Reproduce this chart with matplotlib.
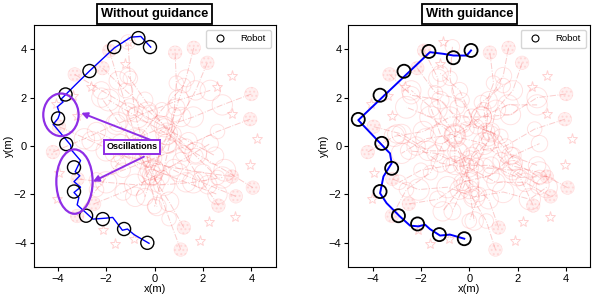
import matplotlib
matplotlib.use("Agg")
import matplotlib.pyplot as plt
from matplotlib.patches import Circle, Ellipse
from matplotlib.lines import Line2D

plt.rcParams['font.family'] = ['Liberation Sans', 'DejaVu Sans']

# ---------------- data ----------------
titles = ["Without guidance", "With guidance"]
ticks = [-4, -2, 0, 2, 4]

# robot trajectory (blue line) and sampled robot positions (black circles)
robot_line_left_x = [-0.23, -0.85, -1.12, -1.33, -1.73, -2.0, -2.55, -2.9, -3.2, -3.13, -3.33, -3.06, -3.33,
                     -3.09, -3.28, -3.06, -3.44, -3.47, -4.19, -3.99, -3.92, -4.02, -3.78, -3.88, -3.3,
                     -2.69, -1.67, -0.98, -0.57, -0.16]
robot_line_left_y = [-4.02, -3.66, -3.43, -3.48, -2.95, -2.98, -3.02, -2.7, -2.43, -2.13, -1.92, -1.7, -1.47,
                     -1.23, -1.06, -0.6, -0.16, 0.04, 0.9, 1.14, 1.34, 1.62, 1.82, 1.92, 2.5,
                     3.1, 4.05, 4.5, 4.53, 4.09]
robot_pos_left_x = [-0.3, -1.26, -2.14, -2.83, -3.33, -3.33, -3.65, -3.99, -3.68, -2.69, -1.67, -0.67, -0.19]
robot_pos_left_y = [-4.0, -3.43, -3.02, -2.88, -1.88, -0.88, 0.08, 1.14, 2.13, 3.1, 4.09, 4.46, 4.09]

robot_line_right_x = [-0.21, -0.8, -1.21, -1.63, -1.83, -2.11, -2.45, -2.87, -3.42, -3.69, -3.55, -3.21,
                      -3.28, -3.42, -4.59, -1.63, -1.07, -0.66, -0.11, 0.07]
robot_line_right_y = [-3.83, -3.66, -3.7, -3.43, -3.25, -3.32, -3.29, -2.91, -2.36, -1.95, -1.26, -0.71,
                      -0.3, -0.16, 1.07, 3.88, 3.81, 3.74, 3.74, 3.95]
robot_pos_right_x = [-0.21, -1.24, -2.14, -2.93, -3.69, -3.21, -3.62, -4.59, -3.69, -2.7, -1.67, -0.66, 0.07]
robot_pos_right_y = [-3.83, -3.66, -3.22, -2.88, -1.88, -0.92, 0.11, 1.1, 2.1, 3.09, 3.91, 3.65, 3.95]

# pedestrian goals (stars) and body radii
ped_goal_x = [-0.85, -1.63, -2.14, -4.03, -3.95, -3.2, -4.06, -3.36, -2.64, -1.21, -1.08,
              4.23, 3.33, 2.23, 3.95, 2.57, 3.2, 1.87, 3.2]
ped_goal_y = [-3.86, -4.03, -3.46, -2.2, -1.11, 1.26, 1.72, 2.08, 2.46, 3.37, 4.28,
              0.29, -2.93, -3.15, -0.8, 2.42, 2.89, -3.94, 1.32]
ped_radius = [0.3, 0.35, 0.4, 0.42, 0.3, 0.35, 0.45, 0.38, 0.33, 0.4, 0.3,
              0.42, 0.36, 0.3, 0.4, 0.34, 0.3, 0.38, 0.44]

# pedestrian trajectories without guidance
left_ped_x = [
    [0.85, 0.9, 0.8, 0.6, 0.3, 0.0],
    [1.62, 1.3, 0.9, 0.5, 0.0, -0.4],
    [2.18, 1.7, 1.1, 0.5, -0.2, -0.8],
    [4.0, 2.8, 1.6, 0.4, -0.8, -2.0],
    [3.95, 2.6, 1.3, 0.0, -1.3, -2.4],
    [3.2, 2.0, 0.8, -0.5, -1.7],
    [4.06, 2.9, 1.7, 0.5, -0.7, -1.9],
    [3.36, 2.2, 1.0, -0.2, -1.4, -2.4],
    [2.64, 1.9, 1.2, 0.4, -0.4, -1.1],
    [1.21, 0.6, -0.1, -0.8, -1.5, -2.2],
    [1.08, 0.6, 0.1, -0.4, -0.8, -1.0, -1.1],
    [-4.2, -2.9, -1.6, -0.3, 1.0, 2.3],
    [-3.3, -2.2, -1.0, 0.2, 1.4, 2.5],
    [-2.15, -1.2, -0.2, 0.8, 1.7, 2.6],
    [-3.95, -2.6, -1.3, 0.0, 1.3, 2.6],
    [-2.5, -1.3, -0.1, 1.1, 2.3],
    [-3.2, -2.4, -1.5, -0.6, 0.3, 1.2],
    [-1.87, -1.5, -1.1, -0.7, -0.3, 0.1],
    [-3.18, -2.0, -0.8, 0.4, 1.6, 2.8],
]
left_ped_y = [
    [3.86, 2.6, 1.3, 0.0, -1.3, -2.5],
    [4.06, 2.8, 1.6, 0.4, -0.9, -2.1],
    [3.44, 2.3, 1.2, 0.1, -1.0, -2.1],
    [2.15, 1.7, 1.2, 0.8, 0.3, -0.2],
    [1.11, 0.6, 0.0, -0.5, -1.0, -1.4],
    [-1.26, -1.1, -0.9, -0.6, -0.3],
    [-1.72, -1.0, -0.3, 0.5, 1.2, 1.9],
    [-2.08, -1.6, -1.1, -0.5, 0.1, 0.6],
    [-2.46, -1.4, -0.3, 0.8, 1.9, 2.9],
    [-3.37, -2.3, -1.2, -0.1, 1.0, 2.0],
    [-4.28, -3.0, -1.6, -0.2, 1.3, 2.8, 4.3],
    [-0.25, 0.3, 0.9, 1.4, 1.9, 2.3],
    [2.96, 2.3, 1.6, 0.9, 0.2, -0.4],
    [3.22, 2.3, 1.4, 0.5, -0.4, -1.3],
    [0.8, 0.2, -0.4, -1.0, -1.5, -2.0],
    [-2.39, -1.9, -1.3, -0.6, 0.1],
    [-2.89, -1.8, -0.7, 0.4, 1.5, 2.5],
    [3.94, 2.7, 1.4, 0.1, -1.2, -2.5],
    [-1.36, -1.5, -1.6, -1.6, -1.5, -1.3],
]

# pedestrian trajectories with guidance
right_ped_x = [
    [0.85, 1.0, 0.6, 0.8, 0.3, 0.4, 0.0],
    [1.62, 1.4, 0.8, 0.7, 0.1, -0.2, -0.7],
    [2.18, 1.8, 1.1, 0.8, 0.0, -0.4, -1.1],
    [4.0, 2.8, 1.7, 0.5, -0.6, -1.8, -2.8],
    [3.95, 2.7, 1.5, 0.3, -0.8, -2.0, -2.9],
    [3.2, 2.0, 0.9, -0.3, -1.4, -2.5],
    [4.06, 2.9, 1.7, 0.6, -0.6, -1.6, -2.6],
    [3.36, 2.3, 1.1, 0.0, -1.2, -2.2, -3.0],
    [2.64, 2.1, 1.3, 0.9, 0.1, -0.4, -1.2],
    [1.21, 0.8, 0.0, -0.4, -1.2, -1.6, -2.4],
    [1.08, 0.7, 0.1, -0.1, -0.6, -0.5, -0.8, -0.7],
    [-4.2, -3.1, -1.9, -0.8, 0.5, 1.6, 2.8],
    [-3.3, -2.4, -1.2, -0.3, 0.9, 1.7, 2.8],
    [-2.15, -1.4, -0.3, 0.3, 1.3, 1.9, 2.9],
    [-3.95, -2.8, -1.7, -0.5, 0.6, 1.8, 2.9],
    [-2.5, -1.3, -0.3, 0.9, 1.8, 2.9],
    [-3.2, -2.6, -1.6, -1.1, -0.1, 0.5, 1.4],
    [-1.87, -1.3, -1.3, -0.6, -0.6, 0.0, 0.2],
    [-3.18, -2.1, -0.9, 0.2, 1.4, 2.5, 3.2],
]
right_ped_y = [
    [3.86, 2.6, 1.5, 0.3, -0.8, -2.0, -3.1],
    [4.06, 2.9, 1.9, 0.6, -0.4, -1.6, -2.7],
    [3.44, 2.3, 1.5, 0.2, -0.6, -1.8, -2.7],
    [2.15, 2.0, 1.3, 1.2, 0.5, 0.3, -0.3],
    [1.11, 0.7, 0.0, -0.2, -0.8, -1.0, -1.5],
    [-1.26, -1.3, -0.8, -0.8, -0.3, -0.2],
    [-1.72, -1.1, -0.8, 0.1, 0.4, 1.2, 1.6],
    [-2.08, -1.5, -1.5, -0.9, -0.7, 0.0, 0.5],
    [-2.46, -1.3, -0.6, 0.5, 1.2, 2.3, 3.0],
    [-3.37, -2.2, -1.5, -0.3, 0.5, 1.6, 2.3],
    [-4.28, -3.1, -2.1, -0.8, 0.3, 1.6, 2.8, 4.1],
    [-0.25, 0.4, 0.6, 1.2, 1.2, 1.7, 1.7],
    [2.96, 2.1, 1.9, 0.9, 0.6, -0.4, -0.8],
    [3.22, 2.2, 1.9, 0.8, 0.4, -0.7, -1.3],
    [0.8, 0.5, -0.2, -0.2, -0.9, -1.0, -1.6],
    [-2.39, -2.2, -1.5, -1.2, -0.4, 0.1],
    [-2.89, -1.8, -1.1, 0.1, 0.7, 1.8, 2.5],
    [3.94, 2.8, 1.5, 0.5, -0.8, -1.8, -3.1],
    [-1.36, -1.8, -1.7, -2.1, -1.9, -2.2, -1.7],
]

# annotation
osc_text = "Oscillations"
osc_text_x, osc_text_y = -0.94, -0.04
osc_ell = [(-3.87, 1.29, 1.46, 1.76), (-3.31, -1.47, 1.5, 2.66)]
osc_arrows = [((-0.16, 0.25), (-3.03, 1.37)), ((-0.44, -0.44), (-2.55, -1.47))]

# ---------------- drawing ----------------
PURPLE = '#8f2ee6'

fig = plt.figure(figsize=(5.92, 2.94), dpi=100)
ax_l = fig.add_axes([0.0551, 0.0918, 0.412, 0.823])
ax_r = fig.add_axes([0.5873, 0.0918, 0.411, 0.823])

panels = [
    (ax_l, left_ped_x, left_ped_y, robot_line_left_x, robot_line_left_y,
     robot_pos_left_x, robot_pos_left_y, 1.0, 1.0),
    (ax_r, right_ped_x, right_ped_y, robot_line_right_x, robot_line_right_y,
     robot_pos_right_x, robot_pos_right_y, 1.4, 1.3),
]

for i, (ax, px, py, rlx, rly, rpx, rpy, lw_line, lw_circ) in enumerate(panels):
    for k in range(len(px)):
        xs, ys, r = px[k], py[k], ped_radius[k]
        ax.plot(xs, ys, ls='-.', lw=0.7, color=(0.95, 0.35, 0.35), alpha=0.3, zorder=1)
        ax.add_patch(Circle((xs[0], ys[0]), 0.28, facecolor=(1, 0.6, 0.6, 0.14),
                            edgecolor=(1, 0.4, 0.4, 0.15), hatch='....', lw=0.5, zorder=1))
        for xx, yy in zip(xs[1:], ys[1:]):
            ax.add_patch(Circle((xx, yy), r, facecolor='none',
                                edgecolor=(1, 0.2, 0.2, 0.14), lw=0.7, zorder=1))
        ax.plot([ped_goal_x[k]], [ped_goal_y[k]], marker='*', ms=8, mfc='none',
                mec=(1, 0.3, 0.3, 0.25), mew=0.7, ls='none', zorder=1)

    ax.plot(rlx, rly, color='blue', lw=lw_line, zorder=3)
    for xx, yy in zip(rpx, rpy):
        ax.add_patch(Circle((xx, yy), 0.27, facecolor='none', edgecolor='black',
                            lw=lw_circ, zorder=4))

    ax.set_xlim(-5, 5)
    ax.set_ylim(-5, 5)
    ax.set_aspect('equal')
    ax.set_xticks(ticks)
    ax.set_yticks(ticks)
    ax.tick_params(labelsize=8, length=3, width=0.8, pad=2)
    ax.set_xlabel("x(m)", fontsize=8, labelpad=0)
    ax.set_ylabel("y(m)", fontsize=8, labelpad=0)
    ax.set_title(titles[i], fontsize=9.3, fontweight='bold', pad=6,
                 bbox=dict(boxstyle='square,pad=0.3', facecolor='white',
                           edgecolor='black', linewidth=1.3))
    handle = Line2D([], [], marker='o', ls='none', mfc='none', mec='black', ms=5, mew=0.8)
    ax.legend([handle], ["Robot"], loc='upper right', fontsize=6.8,
              handletextpad=1.2, borderpad=0.5, framealpha=0.8)

# oscillation annotation (left panel)
for (cx, cy, w, h) in osc_ell:
    ax_l.add_patch(Ellipse((cx, cy), w, h, facecolor='none', edgecolor=PURPLE, lw=1.6, zorder=5))
for (s, e) in osc_arrows:
    ax_l.annotate("", xy=e, xytext=s,
                  arrowprops=dict(arrowstyle='-|>', color=PURPLE, lw=1.4,
                                  mutation_scale=9, shrinkA=0, shrinkB=0), zorder=5)
ax_l.text(osc_text_x, osc_text_y, osc_text, fontsize=6.5, fontweight='bold',
          ha='center', va='center', zorder=6,
          bbox=dict(boxstyle='square,pad=0.3', facecolor='white', edgecolor=PURPLE, linewidth=1.4))

fig.savefig("out.png", dpi=100)
